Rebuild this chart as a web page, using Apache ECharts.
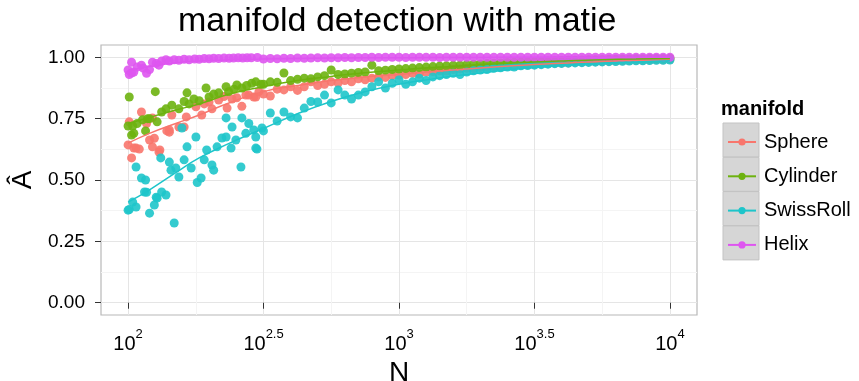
<!DOCTYPE html>
<html>
<head>
<meta charset="utf-8">
<title>manifold detection with matie</title>
<script src="https://cdn.jsdelivr.net/npm/echarts@6/dist/echarts.min.js"></script>
<style>
html, body { margin: 0; padding: 0; background: #fff; }
#main { width: 859px; height: 381px; }
</style>
</head>
<body>
<div id="main"></div>
<script type="text/javascript">
// manifold names and colours
var manifolds = ['Sphere', 'Cylinder', 'SwissRoll', 'Helix'];
var colors = ['#F8766D', '#6DB20F', '#1EC5CA', '#DE55F0'];

// small N part, one list per manifold
var sphereN = [100,101,103,105,107,110,112,117,120,123,123,125,130,131,139,142,142,145,154,161,164,178,187,191,199,204,216,226,232,242,252,263,272,279,291,296,304];
var sphereA = [.643,.737,.59,.63,.63,.626,.777,.73,.663,.753,.635,.67,.614,.622,.70,.704,.695,.765,.716,.716,.757,.798,.765,.81,.818,.79,.826,.84,.793,.83,.835,.80,.846,.846,.838,.838,.86];

var cylinderN = [100,101,103,104,105,108,113,116,118,120,126,128,133,138,145,154,161,165,168,175,183,194,199,207,216,230,235,246,252,263,274,286,296,309];
var cylinderA = [.72,.838,.683,.72,.69,.73,.745,.70,.75,.75,.86,.737,.777,.79,.805,.79,.82,.855,.81,.83,.823,.875,.838,.85,.855,.88,.86,.87,.887,.875,.885,.894,.9,.89];

var swissN = [100,101,104,107,107,112,115,116,117,120,125,127,128,132,133,138,142,144,148,150,154,158,161,165,171,178,180,186,191,195,204,207,213,222,230,230,240,242,250,261,263,272,279,291,296,296,299,312];
var swissA = [.377,.38,.41,.39,.553,.508,.451,.50,.45,.365,.398,.43,.426,.59,.451,.439,.573,.54,.325,.549,.512,.712,.582,.635,.549,.675,.49,.508,.582,.622,.561,.54,.635,.671,.675,.753,.63,.716,.663,.553,.753,.69,.73,.704,.675,.63,.626,.712];

var helixN = [100,101,103,103,105,108,112,114,117,120,123,127,130,133,138,142,148,154,161,168,176,183,191,199,207,216,226,236,245,255,265,275,285,300];
var helixA = [.948,.93,.936,.98,.94,.96,.968,.955,.935,.95,.98,.975,.968,.985,.99,.985,.99,.988,.992,.99,.993,.992,.995,.994,.996,.995,.997,.996,.997,.998,.997,.998,.998,.999];

// larger N part, shared N values
var gridN = [316,335,355,376,398,422,447,473,501,531,562,596,631,668,708,750,794,841,891,944,1000,1059,1122,1189,1259,1334,1413,1496,1585,1679,1778,1884,1995,2113,2239,2371,2512,2661,2818,2985,3162,3350,3548,3758,3981,4217,4467,4732,5012,5309,5623,5957,6310,6683,7079,7499,7943,8414,8913,9441,10000];
var sphereGridA = [.85,.842,.87,.867,.88,.865,.88,.9,.885,.89,.9,.895,.905,.9,.912,.908,.915,.92,.918,.925,.928,.93,.935,.932,.94,.942,.945,.944,.95,.952,.955,.954,.958,.96,.962,.963,.965,.966,.968,.969,.971,.972,.974,.975,.976,.977,.979,.98,.981,.982,.983,.984,.985,.986,.987,.988,.988,.989,.99,.99,.991];
var cylinderGridA = [.89,.9,.898,.936,.905,.91,.915,.912,.92,.925,.948,.93,.932,.935,.938,.94,.968,.945,.947,.95,.952,.954,.956,.958,.96,.962,.964,.965,.967,.968,.97,.972,.973,.975,.976,.977,.979,.98,.981,.982,.983,.984,.985,.986,.987,.988,.988,.989,.99,.99,.991,.992,.992,.993,.993,.994,.994,.995,.995,.995,.996];
var swissGridA = [.70,.773,.74,.777,.757,.753,.793,.82,.818,.846,.814,.867,.846,.83,.846,.859,.88,.9,.875,.894,.908,.89,.9,.915,.905,.92,.925,.93,.935,.93,.94,.945,.948,.95,.955,.957,.96,.96,.965,.966,.968,.97,.972,.974,.975,.976,.977,.978,.979,.98,.981,.982,.983,.984,.985,.986,.986,.987,.988,.988,.989];
var helixGridA = [.993,.995,.994,.996,.995,.997,.996,.997,.998,.997,.998,.998,.999,.998,.999,.999,1,.999,1,1,1,.999,1,1,1,1,.999,1,1,1,1,1,1,1,1,1,1,1,1,1,1,1,1,1,1,1,1,1,1,1,1,1,1,1,1,1,1,1,1,1,1];

// smooth fit lines
var fitN = [100,120,150,183,237,316,422,562,750,1000,1334,1778,2371,3162,4217,5623,7499,10000];
var sphereFit = [.65,.69,.73,.765,.815,.86,.885,.905,.92,.93,.942,.952,.962,.971,.977,.983,.987,.99];
var cylinderFit = [.73,.755,.785,.81,.85,.88,.905,.922,.937,.948,.958,.966,.974,.981,.986,.99,.993,.995];
var swissFit = [.41,.46,.53,.59,.65,.71,.77,.82,.86,.89,.912,.93,.945,.958,.967,.975,.981,.986];
var helixFit = [.945,.962,.978,.985,.99,.993,.995,.997,.998,.998,.999,.999,1,1,1,1,1,1];

// axis ticks (x in log10 N)
var xTicks = [2, 2.5, 3, 3.5, 4];
var xTickExp = ['2', '2.5', '3', '3.5', '4'];
var xMinor = [2.25, 2.75, 3.25, 3.75];
var yTicks = [0, 0.25, 0.5, 0.75, 1];
var yMinor = [0.125, 0.375, 0.625, 0.875];

var lowN = [sphereN, cylinderN, swissN, helixN];
var lowA = [sphereA, cylinderA, swissA, helixA];
var gridA = [sphereGridA, cylinderGridA, swissGridA, helixGridA];
var fits = [sphereFit, cylinderFit, swissFit, helixFit];

function pairs(ns, vs) {
    return ns.map(function (n, i) { return [Math.log10(n), vs[i]]; });
}

var font = 'Liberation Sans, Arial, Helvetica, sans-serif';
var series = [];
manifolds.forEach(function (name, k) {
    series.push({
        name: name,
        type: 'line',
        smooth: true,
        symbol: 'circle',
        showSymbol: false,
        z: 4,
        silent: true,
        itemStyle: { color: colors[k] },
        lineStyle: { color: colors[k], width: 1.5 },
        data: pairs(fitN, fits[k])
    });
});
manifolds.forEach(function (name, k) {
    series.push({
        name: name,
        type: 'scatter',
        symbolSize: 9,
        z: 3,
        itemStyle: { color: colors[k], opacity: 0.9 },
        data: pairs(lowN[k], lowA[k]).concat(pairs(gridN, gridA[k]))
    });
});

var chart = echarts.init(document.getElementById('main'));
var option = {
    animation: false,
    textStyle: { fontFamily: font },
    title: [{
        text: 'manifold detection with matie',
        left: 178,
        top: 0,
        padding: [5, 0, 3, 0],
        textStyle: { fontSize: 34, fontWeight: 'normal', color: '#000', fontFamily: font }
    }, {
        text: 'manifold',
        left: 721,
        top: 99,
        padding: 0,
        textStyle: { fontSize: 20, fontWeight: 'bold', color: '#000', fontFamily: font }
    }],
    legend: {
        data: manifolds,
        orient: 'vertical',
        left: 722,
        top: 127,
        itemWidth: 28,
        itemHeight: 9,
        itemGap: 14.3,
        selectedMode: false,
        lineStyle: { width: 2 },
        textStyle: { fontSize: 20, lineHeight: 20, color: '#000', fontFamily: font, padding: [0, 0, 0, 3] }
    },
    graphic: manifolds.map(function (name, k) {
        return {
            type: 'rect',
            z: -1,
            shape: { x: 723, y: 123 + k * 34.3, width: 36, height: 34 },
            style: { fill: '#d6d6d6', stroke: '#c3c3c3', lineWidth: 1 }
        };
    }),
    grid: {
        left: 101, right: 162, top: 45, bottom: 66,
        outerBoundsMode: 'none',
        show: true,
        backgroundColor: '#fff',
        borderColor: '#b8b8b8',
        borderWidth: 1.2
    },
    xAxis: [{
        type: 'value',
        min: 1.9,
        max: 4.1,
        name: 'N',
        nameLocation: 'middle',
        nameGap: 27,
        nameTextStyle: { fontSize: 28, color: '#000', fontFamily: font },
        axisLine: { show: false },
        axisTick: { customValues: xTicks, length: 6, lineStyle: { color: '#333' } },
        axisLabel: {
            customValues: xTicks,
            margin: 13,
            formatter: function (v) {
                var i = xTicks.indexOf(v);
                return '{b|10}{s|' + (i >= 0 ? xTickExp[i] : v) + '}';
            },
            rich: {
                b: { fontSize: 20, lineHeight: 26, color: '#000', fontFamily: font, verticalAlign: 'bottom' },
                s: { fontSize: 13, color: '#000', fontFamily: font, verticalAlign: 'top' }
            }
        },
        splitLine: { show: true, lineStyle: { color: '#e5e5e5', width: 1 } }
    }, {
        type: 'value',
        min: 1.9,
        max: 4.1,
        axisLine: { show: false },
        axisTick: { show: false, customValues: xMinor },
        axisLabel: { show: false },
        splitLine: { show: true, lineStyle: { color: '#f4f4f4', width: 1 } }
    }],
    yAxis: [{
        type: 'value',
        min: -0.05,
        max: 1.05,
        name: 'Â',
        nameLocation: 'middle',
        nameRotate: 90,
        nameGap: 52,
        nameTextStyle: { fontSize: 28, color: '#000', fontFamily: font },
        axisLine: { show: false },
        axisTick: { customValues: yTicks, length: 6, lineStyle: { color: '#333' } },
        axisLabel: {
            customValues: yTicks,
            margin: 16,
            fontSize: 19,
            color: '#000',
            fontFamily: font,
            formatter: function (v) { return v.toFixed(2); }
        },
        splitLine: { show: true, lineStyle: { color: '#e5e5e5', width: 1 } }
    }, {
        type: 'value',
        min: -0.05,
        max: 1.05,
        axisLine: { show: false },
        axisTick: { show: false, customValues: yMinor },
        axisLabel: { show: false },
        splitLine: { show: true, lineStyle: { color: '#f4f4f4', width: 1 } }
    }],
    series: series
};
chart.setOption(option);
</script>
</body>
</html>
